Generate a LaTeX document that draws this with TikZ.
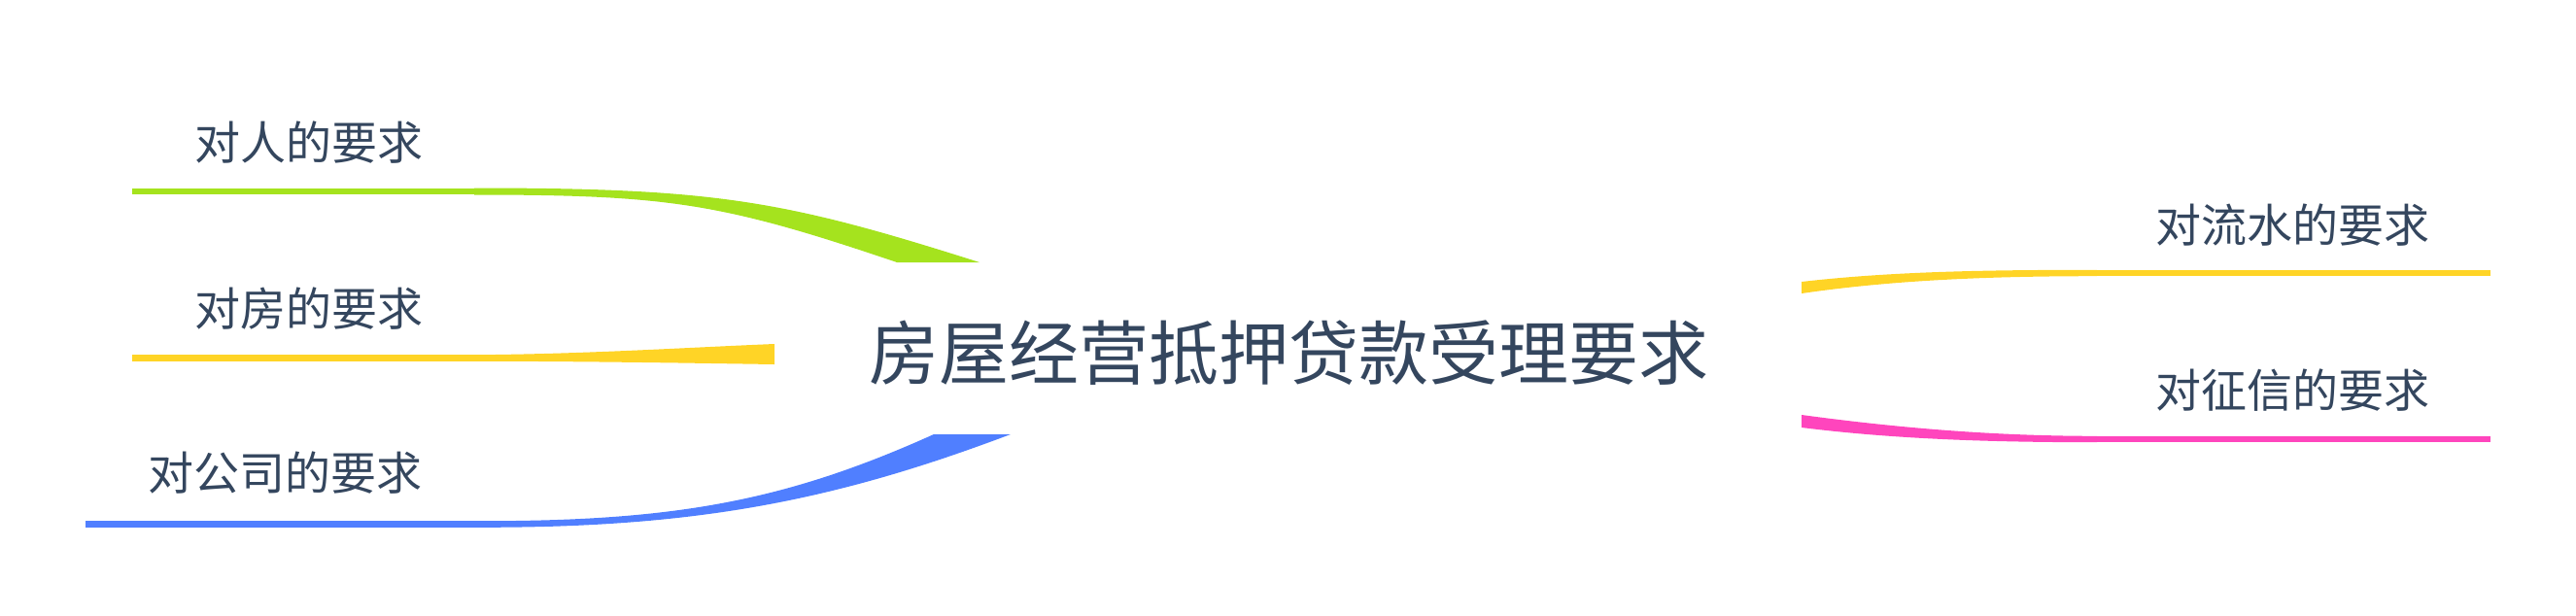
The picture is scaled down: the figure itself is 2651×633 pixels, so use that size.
\documentclass[tikz,border=0pt]{standalone}
\usepackage{fontspec}
\newfontfamily\cjk{Noto Sans CJK SC}
\definecolor{brgreen}{HTML}{A5E31E}
\definecolor{bryellow}{HTML}{FFD426}
\definecolor{brblue}{HTML}{507FFF}
\definecolor{brpink}{HTML}{FF45BD}
\definecolor{txt}{HTML}{34465E}
\tikzset{
  lbl/.style={inner sep=0pt, text=txt, text height=41.4pt, text depth=5.6pt,
    font=\cjk\fontsize{47}{50}\selectfont},
  root/.style={inner sep=0pt, text=txt, text height=63.4pt, text depth=8.6pt,
    font=\cjk\fontsize{72}{76}\selectfont},
  stem/.style={line width=6.5pt, line cap=butt}
}
\begin{document}
\begin{tikzpicture}[x=1pt,y=-1pt]
\useasboundingbox (0,0) rectangle (2651,633);
% nodes
\node[root] (c) at (1326,363) {房屋经营抵押贷款受理要求};
\node[lbl] (a1) at (318,147) {对人的要求};
\node[lbl] (a2) at (318,318) {对房的要求};
\node[lbl] (a3) at (293.5,487) {对公司的要求};
\node[lbl] (b1) at (2359,232) {对流水的要求};
\node[lbl] (b2) at (2359,402) {对征信的要求};
% stem ends
\coordinate (g0) at (136,197);   \coordinate (g1) at (495,197);
\coordinate (y0) at (136,368.5); \coordinate (y1) at (495,368.5);
\coordinate (u0) at (88,539.5);  \coordinate (u1) at (500,539.5);
\coordinate (r0) at (2150,281);  \coordinate (r1) at (2563,281);
\coordinate (p0) at (2150,452);  \coordinate (p1) at (2563,452);
% horizontal stems under labels
\draw[stem, brgreen] (g0) -- (g1);
\draw[stem, bryellow] (y0) -- (y1);
\draw[stem, brblue] (u0) -- (u1);
\draw[stem, bryellow] (r0) -- (r1);
\draw[stem, brpink] (p0) -- (p1);
% tapered branches to the root
\fill[brgreen] (488,193.5) .. controls (738,193.5) and (808,206.5) .. (1008,270)
  -- (923,270) .. controls (743,209) and (688,200.5) .. (488,200.5) -- cycle;
\fill[bryellow] (488,365.2) .. controls (600,364.5) and (700,358) .. (797,354)
  -- (797,375) .. controls (700,373.5) and (600,371.8) .. (488,371.8) -- cycle;
\fill[brblue] (498,536.2) .. controls (698,536.2) and (811,514.5) .. (961,447)
  -- (1040,447) .. controls (860,515) and (718,542.8) .. (498,542.8) -- cycle;
\fill[bryellow] (1854,290) .. controls (1950,279) and (2050,277.8) .. (2158,277.8)
  -- (2158,284.2) .. controls (2050,284.2) and (1950,288) .. (1854,302) -- cycle;
\fill[brpink] (1854,427) .. controls (1950,440) and (2050,448.8) .. (2158,448.8)
  -- (2158,455.2) .. controls (2050,455.2) and (1950,452) .. (1854,440) -- cycle;
\end{tikzpicture}
\end{document}
